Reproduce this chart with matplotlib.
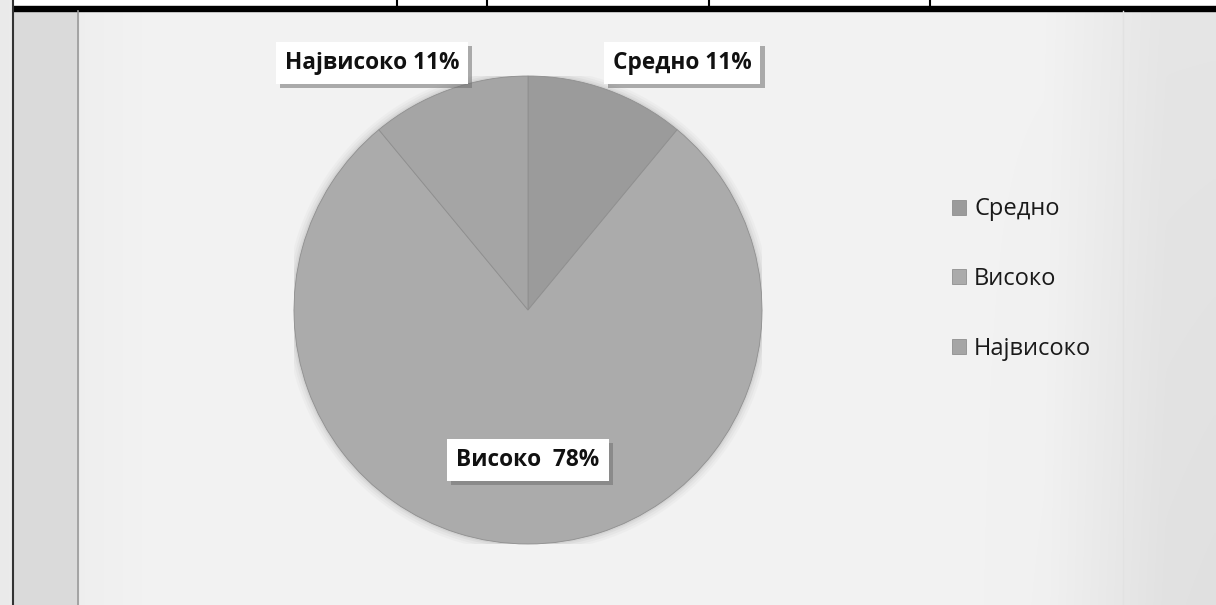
import numpy as np
import matplotlib
matplotlib.use("Agg")
import matplotlib.pyplot as plt
from matplotlib import patheffects as pe
from matplotlib.patches import Circle

plt.rcParams['font.family'] = ['Open Sans', 'DejaVu Sans']

# Data
categories = ['Средно', 'Високо', 'Највисоко']
values = [11, 78, 11]
label_seps = [' ', '  ', ' ']
wedge_colors = ['#9b9b9b', '#ababab', '#a5a5a5']

W, H = 1216, 605
fig = plt.figure(figsize=(W / 100, H / 100), dpi=100)

# Page background: light grey scan tone, lighter in the middle
bg = fig.add_axes([0, 0, 1, 1])
bg.set_axis_off()
xx, yy = np.meshgrid(np.linspace(0, 1, 400), np.linspace(0, 1, 200))
tone = 0.95 - 0.05 * np.clip((xx - 0.86) / 0.1, 0, 1) - 0.03 * np.clip((0.12 - xx) / 0.12, 0, 1)
tone = tone - 0.02 * yy * np.clip((xx - 0.8) / 0.2, 0, 1)
bg.imshow(np.dstack([tone] * 3), extent=[0, W, H, 0], aspect='auto', interpolation='bilinear')
bg.set_xlim(0, W)
bg.set_ylim(H, 0)

# Table frame above the chart
bg.fill_between([13, W], 0, 6, color='white', zorder=2)
bg.fill_between([13, W], 6, 11, color='black', zorder=3)
for x in [397, 487, 709, 930]:
    bg.plot([x, x], [0, 6], color='black', lw=1.5, zorder=3)
bg.plot([13, 13], [0, H], color='#333333', lw=1.5, zorder=3)
bg.fill_between([14, 78], 11, H, color='#dadada', zorder=1.5)
bg.plot([78, 78], [11, H], color='#9a9a9a', lw=1.2, zorder=3)
bg.plot([1123, 1123], [11, H], color='#e2e2e2', lw=1, zorder=3)

# Pie chart
cx, cy, r = 528, 310, 234
ax = fig.add_axes([(cx - r) / W, (H - cy - r) / H, 2 * r / W, 2 * r / H])
ax.set_axis_off()

# soft shadow around the pie
for k, a in zip([1.035, 1.025, 1.015, 1.007], [0.05, 0.07, 0.09, 0.12]):
    ax.add_patch(Circle((0, 0), k, color='#8a8a8a', alpha=a, lw=0, zorder=0))

wedges, _ = ax.pie(values, colors=wedge_colors, startangle=90, counterclock=False,
                   radius=1, wedgeprops=dict(edgecolor='#8f8f8f', linewidth=0.6))
ax.set_xlim(-1, 1)
ax.set_ylim(-1, 1)

total = sum(values)
label_pos = {'Средно': (0.658, 1.056), 'Високо': (0.0, -0.641), 'Највисоко': (-0.667, 1.056)}
for cat, val, sep in zip(categories, values, label_seps):
    pct = round(val / total * 100)
    tx, ty = label_pos[cat]
    t = ax.text(tx, ty, f"{cat}{sep}{pct}%", ha='center', va='center', fontsize=16.3,
                fontweight='bold', color='#111111', clip_on=False, zorder=5,
                bbox=dict(boxstyle='square,pad=0.4', facecolor='white', edgecolor='none'))
    t.get_bbox_patch().set_path_effects([
        pe.SimplePatchShadow(offset=(3, -3), shadow_rgbFace='#707070', alpha=0.55),
        pe.Normal()])

# Legend
leg = fig.legend(wedges, categories, loc='center left',
                 bbox_to_anchor=(940 / W, 1 - 279 / H), frameon=False,
                 fontsize=17, handlelength=0.6, handleheight=0.6,
                 handletextpad=0.35, labelspacing=1.93, borderpad=0)
for txt in leg.get_texts():
    txt.set_color('#1a1a1a')

fig.savefig('out.png', dpi=100)
